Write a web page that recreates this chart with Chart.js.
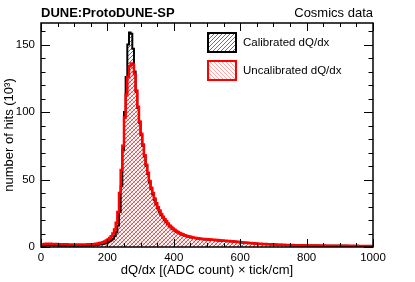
<!DOCTYPE html>
<html>
<head>
<meta charset="utf-8">
<script src="https://cdn.jsdelivr.net/npm/chart.js@4.4.0/dist/chart.umd.min.js"></script>
<style>
  body { margin: 0; background: #fff; }
  #wrap { width: 415px; height: 282px; }
</style>
</head>
<body>
<div id="wrap"><canvas id="c"></canvas></div>
<script>
// histogram data, bins of 5 from 0 to 1000 (in 10^3 hits)
const binWidth = 5;
const xTicks = [0, 200, 400, 600, 800, 1000];
const yTicks = [0, 50, 100, 150];

const calibrated = [
  0.9, 1.1, 1.2, 1.3, 1.3, 1.3, 1.3, 1.3, 1.3, 1.3,
  1.2, 1.2, 1.2, 1.2, 1.2, 1.2, 1.2, 1.2, 1.2, 1.2,
  1.2, 1.2, 1.2, 1.2, 1.2, 1.2, 1.2, 1.2, 1.2, 1.3,
  1.3, 1.3, 1.4, 1.5, 1.6, 1.8, 2.0, 2.3, 2.6, 3.0,
  3.5, 4.2, 5.0, 6.2, 8.0, 11, 16, 26, 45, 72,
  100, 126, 150, 159, 158, 147, 130, 115, 103, 92,
  83, 75, 67, 60, 54, 48, 43, 39, 35, 31.5,
  28.6, 26.2, 23.8, 21.8, 19.9, 18.4, 17, 15.5, 14.4, 13.3,
  12.3, 11.5, 10.8, 10.1, 9.5, 9.0, 8.5, 8.1, 7.8, 7.5,
  7.2, 6.9, 6.7, 6.5, 6.3, 6.1, 6.0, 5.8, 5.7, 5.6,
  5.5, 5.4, 5.3, 5.2, 5.1, 5.0, 4.9, 4.8, 4.7, 4.6,
  4.5, 4.4, 4.3, 4.2, 4.1, 4.0, 3.9, 3.8, 3.7, 3.6,
  3.4, 3.3, 3.2, 3.1, 3.0, 2.9, 2.8, 2.7, 2.6, 2.5,
  2.4, 2.3, 2.25, 2.2, 2.1, 2.05, 2.0, 1.95, 1.9, 1.85,
  1.8, 1.75, 1.7, 1.65, 1.6, 1.56, 1.52, 1.48, 1.45, 1.42,
  1.39, 1.36, 1.33, 1.3, 1.27, 1.24, 1.22, 1.2, 1.18, 1.16,
  1.14, 1.12, 1.1, 1.08, 1.06, 1.04, 1.02, 1.01, 1.0, 0.99,
  0.98, 0.97, 0.96, 0.95, 0.94, 0.93, 0.92, 0.91, 0.9, 0.89,
  0.88, 0.87, 0.86, 0.85, 0.84, 0.83, 0.83, 0.82, 0.82, 0.81,
  0.81, 0.8, 0.8, 0.79, 0.79, 0.78, 0.78, 0.77, 0.77, 0.77
];

const uncalibrated = [
  1.8, 2.1, 2.3, 2.4, 2.4, 2.4, 2.3, 2.3, 2.2, 2.2,
  2.1, 2.1, 2.0, 2.0, 2.0, 2.0, 1.9, 1.9, 1.9, 1.9,
  1.9, 1.9, 1.9, 1.9, 1.9, 1.9, 1.9, 1.9, 2.0, 2.0,
  2.0, 2.1, 2.2, 2.4, 2.6, 2.9, 3.2, 3.6, 4.1, 4.8,
  5.6, 6.6, 8.0, 10, 13, 18, 26, 40, 57, 75,
  96, 113, 126, 134, 136, 135, 128, 116, 104, 93,
  84, 76, 68, 61, 55, 49, 44, 40, 36, 32.5,
  29.5, 27, 24.5, 22.5, 20.5, 19, 17.5, 16, 14.8, 13.7,
  12.7, 11.9, 11.1, 10.4, 9.8, 9.3, 8.8, 8.4, 8.0, 7.7,
  7.4, 7.1, 6.9, 6.7, 6.5, 6.3, 6.2, 6.0, 5.9, 5.8,
  5.7, 5.6, 5.5, 5.4, 5.3, 5.2, 5.1, 5.0, 4.9, 4.8,
  4.7, 4.6, 4.5, 4.4, 4.3, 4.2, 4.0, 3.9, 3.8, 3.7,
  3.5, 3.4, 3.3, 3.2, 3.1, 3.0, 2.9, 2.8, 2.7, 2.6,
  2.5, 2.4, 2.35, 2.3, 2.2, 2.15, 2.1, 2.0, 1.95, 1.9,
  1.85, 1.8, 1.75, 1.7, 1.66, 1.62, 1.58, 1.54, 1.5, 1.47,
  1.44, 1.41, 1.38, 1.35, 1.32, 1.29, 1.26, 1.24, 1.22, 1.2,
  1.18, 1.16, 1.14, 1.12, 1.1, 1.08, 1.06, 1.05, 1.04, 1.03,
  1.02, 1.0, 0.99, 0.98, 0.97, 0.96, 0.95, 0.94, 0.93, 0.92,
  0.91, 0.9, 0.89, 0.88, 0.87, 0.86, 0.86, 0.85, 0.85, 0.84,
  0.84, 0.83, 0.83, 0.82, 0.82, 0.81, 0.81, 0.8, 0.8, 0.8
];

const FONT = "'Liberation Sans', Arial, Helvetica, sans-serif";

// bin contents -> step points (lower edges + closing edge)
function toSteps(vals) {
  const pts = vals.map((v, i) => ({ x: i * binWidth, y: v }));
  pts.push({ x: vals.length * binWidth, y: vals[vals.length - 1] });
  return pts;
}

const ctx = document.getElementById('c').getContext('2d');

// hatch patterns like ROOT fill styles 3004 / 3005
function hatch(color, up) {
  const t = document.createElement('canvas');
  t.width = 4; t.height = 4;
  const g = t.getContext('2d');
  g.strokeStyle = color;
  g.lineWidth = 1;
  g.beginPath();
  if (up) {
    g.moveTo(-1, 5); g.lineTo(5, -1);
    g.moveTo(-1, 1); g.lineTo(1, -1);
    g.moveTo(3, 5); g.lineTo(5, 3);
  } else {
    g.moveTo(-1, -1); g.lineTo(5, 5);
    g.moveTo(3, -1); g.lineTo(5, 1);
    g.moveTo(-1, 3); g.lineTo(1, 5);
  }
  g.stroke();
  return ctx.createPattern(t, 'repeat');
}

const blackHatch = hatch('rgba(0,0,0,0.55)', true);
const redHatch = hatch('rgba(255,0,0,0.35)', false);

// frame, inward ticks, header text, legend
const decorations = {
  id: 'decorations',
  afterDraw(chart) {
    const c = chart.ctx;
    const a = chart.chartArea;
    const xs = chart.scales.x, ys = chart.scales.y;
    c.save();
    c.strokeStyle = '#000';
    c.lineWidth = 1;
    c.beginPath();
    for (let v = 0; v <= 1000; v += 50) {
      const px = Math.round(xs.getPixelForValue(v)) + 0.5;
      const len = v % 200 === 0 ? 8 : 4;
      c.moveTo(px, a.bottom); c.lineTo(px, a.bottom - len);
      c.moveTo(px, a.top); c.lineTo(px, a.top + len);
    }
    for (let v = 0; v <= 160; v += 10) {
      const py = Math.round(ys.getPixelForValue(v)) + 0.5;
      const len = v % 50 === 0 ? 9 : 4.5;
      c.moveTo(a.left, py); c.lineTo(a.left + len, py);
      c.moveTo(a.right, py); c.lineTo(a.right - len, py);
    }
    c.stroke();
    c.lineWidth = 1.5;
    c.strokeRect(a.left, a.top, a.right - a.left, a.bottom - a.top);

    // header
    c.fillStyle = '#000';
    c.textBaseline = 'alphabetic';
    c.font = 'bold 13px ' + FONT;
    c.textAlign = 'left';
    c.fillText('DUNE:ProtoDUNE-SP', a.left, 17);
    c.font = '13px ' + FONT;
    c.textAlign = 'right';
    c.fillText('Cosmics data', a.right, 17);

    // legend
    const entries = [
      { label: 'Calibrated dQ/dx', fill: blackHatch, edge: '#000', y: 33 },
      { label: 'Uncalibrated dQ/dx', fill: redHatch, edge: '#f00', y: 61 }
    ];
    c.font = '11.5px ' + FONT;
    c.textAlign = 'left';
    c.textBaseline = 'middle';
    entries.forEach(e => {
      c.fillStyle = e.fill;
      c.fillRect(208, e.y, 28, 19);
      c.strokeStyle = e.edge;
      c.lineWidth = 2;
      c.strokeRect(208, e.y, 28, 19);
      c.fillStyle = '#000';
      c.fillText(e.label, 243, e.y + 9.5);
    });
    c.restore();
  }
};

new Chart(ctx, {
  type: 'line',
  data: {
    datasets: [
      {
        label: 'Uncalibrated dQ/dx',
        data: toSteps(uncalibrated),
        borderColor: '#ff0000',
        backgroundColor: redHatch,
        borderWidth: 2.5,
        fill: 'origin',
        stepped: 'before',
        pointRadius: 0,
        order: 0
      },
      {
        label: 'Calibrated dQ/dx',
        data: toSteps(calibrated),
        borderColor: '#000000',
        backgroundColor: blackHatch,
        borderWidth: 2,
        fill: 'origin',
        stepped: 'before',
        pointRadius: 0,
        order: 1
      }
    ]
  },
  options: {
    responsive: true,
    maintainAspectRatio: false,
    animation: false,
    layout: { padding: { top: 23, right: 42, left: 0, bottom: 0 } },
    plugins: {
      legend: { display: false },
      tooltip: { enabled: false }
    },
    scales: {
      x: {
        type: 'linear',
        min: 0,
        max: 1000,
        border: { display: false },
        grid: { display: false, drawTicks: false },
        afterBuildTicks: s => { s.ticks = xTicks.map(v => ({ value: v })); },
        ticks: {
          color: '#000',
          font: { family: FONT, size: 11.5 },
          padding: 4,
          maxRotation: 0,
          autoSkip: false,
          callback: v => String(v)
        },
        title: {
          display: true,
          text: 'dQ/dx [(ADC count) × tick/cm]',
          color: '#000',
          font: { family: FONT, size: 13 },
          padding: { top: 0, bottom: 4 }
        },
        afterFit: s => { s.height = 35; }
      },
      y: {
        min: 0,
        max: 166,
        border: { display: false },
        grid: { display: false, drawTicks: false },
        afterBuildTicks: s => { s.ticks = yTicks.map(v => ({ value: v })); },
        ticks: {
          color: '#000',
          font: { family: FONT, size: 11.5 },
          padding: 6,
          callback: v => String(v)
        },
        title: {
          display: true,
          text: 'number of hits (10³)',
          color: '#000',
          font: { family: FONT, size: 13 },
          padding: { top: 2, bottom: 0 }
        },
        afterFit: s => { s.width = 41; }
      }
    }
  },
  plugins: [decorations]
});
</script>
</body>
</html>
